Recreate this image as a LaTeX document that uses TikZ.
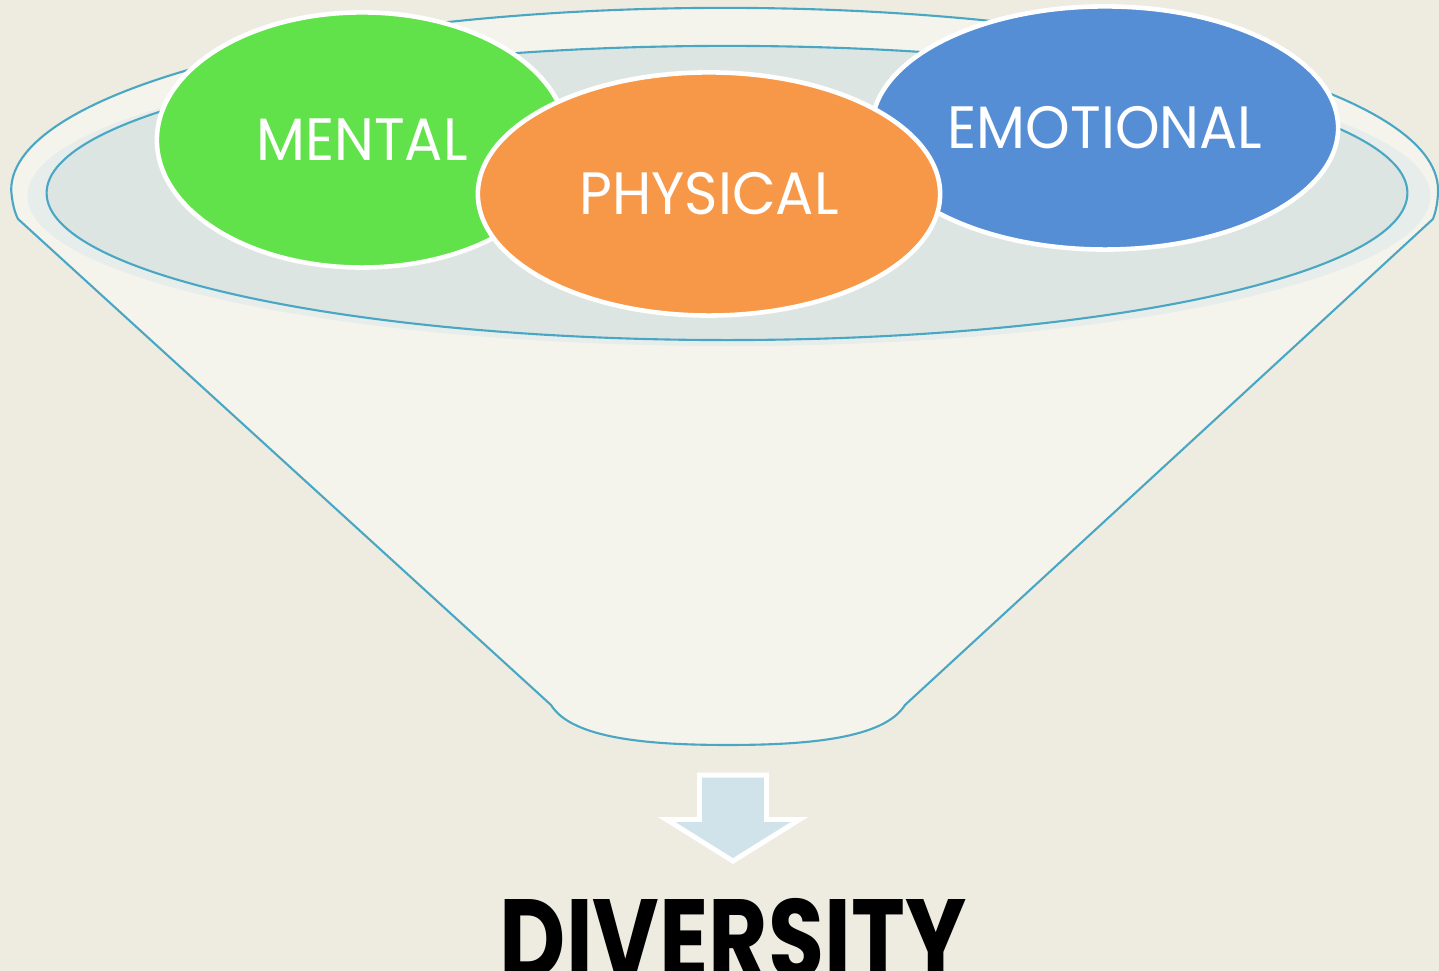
\documentclass[tikz,border=0pt]{standalone}
\usepackage{fontspec}
\usepackage{xcolor}
\usepackage{tikz}
\usetikzlibrary{shapes,arrows,positioning}
\setmainfont{Poppins}
\newfontfamily\traitfont{Poppins}[FakeStretch=0.95]
\newfontfamily\titlefont{Poppins}[FakeStretch=0.81]
\definecolor{bgPaper}{HTML}{EEEBE1}
\definecolor{funnelFill}{HTML}{F4F4EC}
\definecolor{funnelLine}{HTML}{4AA7C4}
\definecolor{rimFill}{HTML}{DCE5E2}
\definecolor{rimGlow}{HTML}{E7EDEB}
\definecolor{greenMental}{HTML}{62E24A}
\definecolor{orangePhysical}{HTML}{F79848}
\definecolor{blueEmotional}{HTML}{568ED5}
\definecolor{arrowBlue}{HTML}{D0E2EA}
\tikzset{funnel-line/.style={draw=funnelLine, line width=0.6pt}}
\tikzset{trait-node/.style={
        ellipse,
        draw=white,
        line width=1.3pt,
        text=white,
        inner sep=0,
        font=\traitfont\fontsize{17}{17}\selectfont
    }
}
\tikzset{down-arrow/.style={
        single arrow,
        draw=white,
        line width=1.4pt,
        fill=arrowBlue,
        inner xsep=0.3cm,
        inner ysep=0.31cm,
        single arrow tip angle=116,
        single arrow head extend=0.33cm,
        rotate=-90
    }
}
\tikzset{title-node/.style={font=\titlefont\bfseries\fontsize{32}{32}\selectfont, inner sep=0}}

\begin{document}
\begin{tikzpicture}[x=0.01cm, y=0.01cm]
    \useasboundingbox (0,0) rectangle (1439,971);
    \clip (0,0) rectangle (1439,971);
    \fill[bgPaper] (0,0) rectangle (1439,971);

    % funnel body with the outer rim
    \path[funnel-line, fill=funnelFill] (18,752) -- (551,266)
        .. controls (572,232) and (650,226) .. (728,226)
        .. controls (806,226) and (884,232) .. (905,266)
        -- (1433,752) .. controls (1436,760) and (1438,770) .. (1438,781)
        arc[start angle=0, end angle=180, x radius=7.13cm, y radius=1.82cm]
        .. controls (12,770) and (14,760) .. (18,752) -- cycle;

    % inner rim
    \fill[rimGlow] (729,775) ellipse[x radius=7.01cm, y radius=1.50cm];
    \path[funnel-line, fill=rimFill] (727,778) ellipse[x radius=6.80cm, y radius=1.47cm];

    \node[trait-node, fill=greenMental, minimum width=4.10cm, minimum height=2.55cm] (mental) at (362,831) {MENTAL};
    \node[trait-node, fill=blueEmotional, minimum width=4.66cm, minimum height=2.43cm] (emotional) at (1105,843) {EMOTIONAL};
    \node[trait-node, fill=orangePhysical, minimum width=4.62cm, minimum height=2.43cm] (physical) at (709,777) {PHYSICAL};

    \node[down-arrow, anchor=tip] (flow) at (733,107) {};
    \node[title-node, below=0.34cm of flow.tip] (diversity) {DIVERSITY};
\end{tikzpicture}
\end{document}
